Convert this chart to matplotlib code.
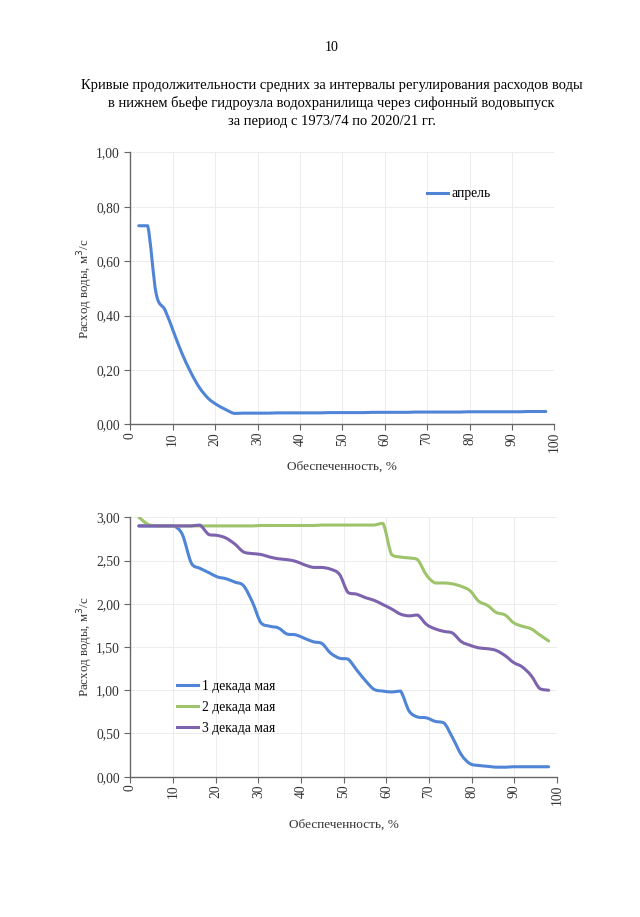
import numpy as np
import matplotlib
matplotlib.use("Agg")
import matplotlib.pyplot as plt
from matplotlib.path import Path
from matplotlib.patches import PathPatch
from matplotlib.lines import Line2D
from matplotlib.ticker import FuncFormatter, MultipleLocator

plt.rcParams['font.family'] = ['Liberation Serif', 'DejaVu Serif']

# обеспеченность, %
p = [2.0, 4.1, 6.1, 8.2, 10.2, 12.2, 14.3, 16.3, 18.4, 20.4, 22.4, 24.5,
     26.5, 28.6, 30.6, 32.7, 34.7, 36.7, 38.8, 40.8, 42.9, 44.9, 46.9, 49.0,
     51.0, 53.1, 55.1, 57.1, 59.2, 61.2, 63.3, 65.3, 67.3, 69.4, 71.4, 73.5,
     75.5, 77.6, 79.6, 81.6, 83.7, 85.7, 87.8, 89.8, 91.8, 93.9, 95.9, 98.0]

q_april = [0.73, 0.73, 0.48, 0.42, 0.34, 0.26, 0.19, 0.135, 0.095, 0.072, 0.055, 0.040,
           0.041, 0.041, 0.041, 0.041, 0.042, 0.042, 0.042, 0.042, 0.042, 0.042, 0.043, 0.043,
           0.043, 0.043, 0.043, 0.044, 0.044, 0.044, 0.044, 0.044, 0.045, 0.045, 0.045, 0.045,
           0.045, 0.045, 0.046, 0.046, 0.046, 0.046, 0.046, 0.046, 0.046, 0.047, 0.047, 0.047]

q_may1 = [2.90, 2.90, 2.90, 2.90, 2.90, 2.80, 2.47, 2.41, 2.36, 2.31, 2.29, 2.25,
          2.21, 2.02, 1.78, 1.74, 1.72, 1.65, 1.64, 1.60, 1.56, 1.54, 1.43, 1.37,
          1.36, 1.23, 1.11, 1.01, 0.99, 0.98, 0.99, 0.76, 0.69, 0.68, 0.64, 0.62,
          0.45, 0.25, 0.15, 0.13, 0.12, 0.11, 0.11, 0.115, 0.115, 0.115, 0.115, 0.115]

q_may2 = [3.00, 2.92, 2.90, 2.90, 2.90, 2.90, 2.90, 2.90, 2.90, 2.90, 2.90, 2.90,
          2.90, 2.90, 2.905, 2.905, 2.905, 2.905, 2.905, 2.905, 2.905, 2.91, 2.91, 2.91,
          2.91, 2.91, 2.91, 2.91, 2.93, 2.57, 2.54, 2.53, 2.51, 2.33, 2.24, 2.24,
          2.23, 2.20, 2.15, 2.03, 1.98, 1.90, 1.87, 1.78, 1.74, 1.71, 1.64, 1.57]

q_may3 = [2.90, 2.90, 2.90, 2.90, 2.90, 2.90, 2.90, 2.91, 2.80, 2.79, 2.76, 2.69,
          2.60, 2.58, 2.57, 2.54, 2.52, 2.51, 2.49, 2.45, 2.42, 2.42, 2.40, 2.34,
          2.13, 2.11, 2.07, 2.04, 1.99, 1.94, 1.88, 1.86, 1.87, 1.76, 1.71, 1.68,
          1.66, 1.56, 1.52, 1.49, 1.48, 1.46, 1.40, 1.32, 1.27, 1.17, 1.02, 1.00]

BLUE = '#4F84D6'
GREEN = '#9DC46B'
PURPLE = '#7D63AD'


def smooth_line(ax, x, y, color, lw=2.2):
    # сглаженная линия (кривые Безье через точки, без выбросов)
    pts = np.column_stack([x, y])
    verts = [pts[0]]
    codes = [Path.MOVETO]
    n = len(pts)
    for i in range(n - 1):
        p0 = pts[i - 1] if i > 0 else pts[i]
        p1 = pts[i]
        p2 = pts[i + 1]
        p3 = pts[i + 2] if i + 2 < n else pts[i + 1]
        c1 = p1 + (p2 - p0) / 6.0
        c2 = p2 - (p3 - p1) / 6.0
        lo, hi = min(p1[1], p2[1]), max(p1[1], p2[1])
        c1[1] = np.clip(c1[1], lo, hi)
        c2[1] = np.clip(c2[1], lo, hi)
        verts += [c1, c2, p2]
        codes += [Path.CURVE4] * 3
    patch = PathPatch(Path(verts, codes), facecolor='none', edgecolor=color,
                      lw=lw, capstyle='round', joinstyle='round')
    ax.add_patch(patch)


def style_axes(ax, ymax, ystep, xpad):
    ax.set_xlim(0, 100)
    ax.set_ylim(0, ymax)
    ax.xaxis.set_major_locator(MultipleLocator(10))
    ax.yaxis.set_major_locator(MultipleLocator(ystep))
    ax.yaxis.set_major_formatter(FuncFormatter(lambda v, _: f"{v:.2f}".replace('.', ',')))
    ax.grid(True, color='#ececec', lw=0.7)
    ax.set_axisbelow(True)
    for s in ['top', 'right']:
        ax.spines[s].set_visible(False)
    for s in ['left', 'bottom']:
        ax.spines[s].set_color('#666666')
        ax.spines[s].set_linewidth(1.0)
    ax.tick_params(axis='both', colors='#666666', labelcolor='#333333',
                   labelsize=9.8, length=4, width=0.8)
    ax.tick_params(axis='x', labelrotation=90, pad=1.5)
    ax.set_xlabel("Обеспеченность, %", fontsize=9.5, color='#333333', labelpad=xpad)
    ax.set_ylabel("Расход воды, м$^3$/с", fontsize=9.3, color='#333333', labelpad=1)


fig = plt.figure(figsize=(6.4, 9.17), dpi=100)

fig.text(0.518, 0.948, "10", ha='center', va='center', fontsize=10)
fig.text(0.518, 0.907, "Кривые продолжительности средних за интервалы регулирования расходов воды",
         ha='center', va='center', fontsize=10.45)
fig.text(0.518, 0.888, "в нижнем бьефе гидроузла водохранилища через сифонный водовыпуск",
         ha='center', va='center', fontsize=10.45)
fig.text(0.518, 0.868, "за период с 1973/74 по 2020/21 гг.",
         ha='center', va='center', fontsize=10.45)

ax1 = fig.add_axes([0.2036, 0.5373, 0.6625, 0.2966])
style_axes(ax1, 1.0, 0.2, 6)
smooth_line(ax1, p, q_april, BLUE)
h1 = [Line2D([], [], color=BLUE, lw=2.2)]
ax1.legend(h1, ["апрель"], loc='center left', bbox_to_anchor=(0.70, 0.847),
           frameon=False, fontsize=9.8, handlelength=1.5, handletextpad=0.3,
           borderaxespad=0, borderpad=0)

ax2 = fig.add_axes([0.2036, 0.1530, 0.667, 0.2829])
style_axes(ax2, 3.0, 0.5, 10)
smooth_line(ax2, p, q_may1, BLUE)
smooth_line(ax2, p, q_may2, GREEN)
smooth_line(ax2, p, q_may3, PURPLE)
h2 = [Line2D([], [], color=c, lw=2.2) for c in (BLUE, GREEN, PURPLE)]
ax2.legend(h2, ["1 декада мая", "2 декада мая", "3 декада мая"], loc='center left',
           bbox_to_anchor=(0.11, 0.267), frameon=False, fontsize=9.8,
           handlelength=1.5, handletextpad=0.3, labelspacing=0.6,
           borderaxespad=0, borderpad=0)

fig.savefig("out.png", dpi=100)
